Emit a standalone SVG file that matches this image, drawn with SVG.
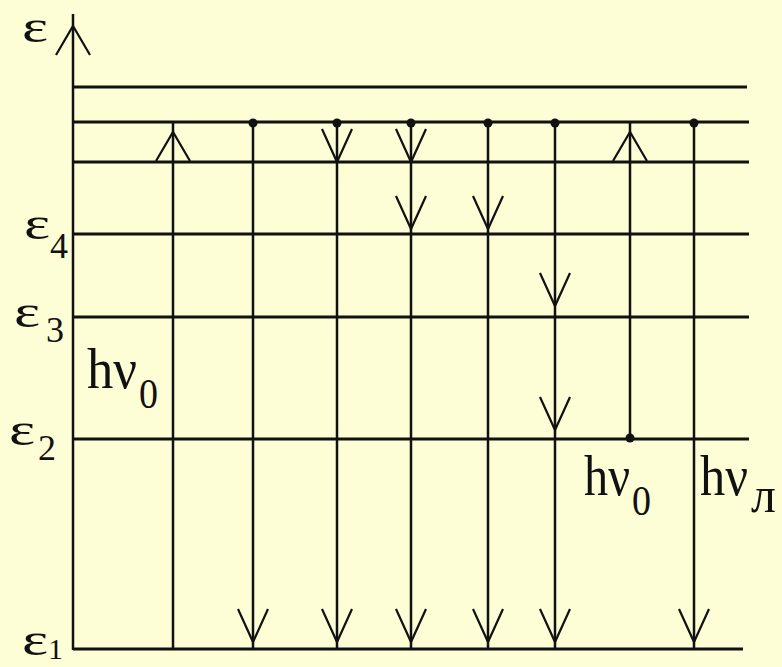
<svg xmlns="http://www.w3.org/2000/svg" xmlns:xlink="http://www.w3.org/1999/xlink" width="782" height="667" viewBox="0 0 782 667">
<style>
.lvl{stroke:#111;stroke-width:3;fill:none}
.ln{stroke:#111;stroke-width:2.5;fill:none}
.ah{stroke:#111;stroke-width:2.2;fill:none;stroke-linejoin:miter}
.dot{fill:#111}
.t{font-family:"Liberation Serif","Times New Roman",serif;fill:#111}
</style>
<defs>
<path id="dn" d="M-15,-33 L0,0 L15,-33" class="ah"/>
<path id="up" d="M-17,29 L0,0 L17,29" class="ah"/>
</defs>
<rect width="782" height="667" fill="#FDFDD6"/>
<g id="levels">
<line class="lvl" x1="73" y1="87" x2="747" y2="87"/>
<line class="lvl" x1="73" y1="122" x2="749" y2="122"/>
<line class="lvl" x1="73" y1="162" x2="749" y2="162"/>
<line class="lvl" x1="73" y1="234" x2="749" y2="234"/>
<line class="lvl" x1="73" y1="317" x2="749" y2="317"/>
<line class="lvl" x1="73" y1="439" x2="749" y2="439"/>
<line class="lvl" x1="73" y1="649" x2="743" y2="649"/>
</g>
<g id="axis">
<line class="ln" x1="73" y1="14" x2="73" y2="650"/>
<use xlink:href="#up" x="73" y="26"/>
</g>
<g id="connectors">
<line class="ln" x1="173" y1="122" x2="173" y2="649"/>
<use xlink:href="#up" x="173" y="132"/>
<line class="ln" x1="253" y1="122" x2="253" y2="649"/>
<use xlink:href="#dn" x="253" y="642"/>
<line class="ln" x1="337" y1="122" x2="337" y2="649"/>
<use xlink:href="#dn" x="337" y="162"/>
<use xlink:href="#dn" x="337" y="642"/>
<line class="ln" x1="411" y1="122" x2="411" y2="649"/>
<use xlink:href="#dn" x="411" y="162"/>
<use xlink:href="#dn" x="411" y="229"/>
<use xlink:href="#dn" x="411" y="642"/>
<line class="ln" x1="488" y1="122" x2="488" y2="649"/>
<use xlink:href="#dn" x="488" y="229"/>
<use xlink:href="#dn" x="488" y="642"/>
<line class="ln" x1="555" y1="122" x2="555" y2="649"/>
<use xlink:href="#dn" x="555" y="306"/>
<use xlink:href="#dn" x="555" y="430"/>
<use xlink:href="#dn" x="555" y="642"/>
<line class="ln" x1="630" y1="122" x2="630" y2="439"/>
<use xlink:href="#up" x="630" y="132"/>
<line class="ln" x1="694" y1="122" x2="694" y2="649"/>
<use xlink:href="#dn" x="694" y="642"/>
</g>
<g id="dots">
<circle class="dot" cx="253" cy="123" r="4.5"/>
<circle class="dot" cx="337" cy="123" r="4.5"/>
<circle class="dot" cx="411" cy="123" r="4.5"/>
<circle class="dot" cx="488" cy="123" r="4.5"/>
<circle class="dot" cx="555" cy="123" r="4.5"/>
<circle class="dot" cx="694" cy="123" r="4.5"/>
<circle class="dot" cx="630" cy="438" r="4.5"/>
</g>
<g id="labels">
<text class="t" font-size="46" transform="translate(22,42) scale(1.35,1)">ε</text>
<text class="t" font-size="46" transform="translate(24,239) scale(1.35,1)">ε</text>
<text class="t" font-size="36" x="50" y="258">4</text>
<text class="t" font-size="46" transform="translate(14,327) scale(1.35,1)">ε</text>
<text class="t" font-size="36" x="46" y="342">3</text>
<text class="t" font-size="46" transform="translate(9,445) scale(1.35,1)">ε</text>
<text class="t" font-size="36" x="38" y="460">2</text>
<text class="t" font-size="46" transform="translate(22,655) scale(1.35,1)">ε</text>
<text class="t" font-size="30" x="48" y="659">1</text>
<text class="t" font-size="50" textLength="50" lengthAdjust="spacingAndGlyphs" transform="translate(87,388) scale(1,1.15)">hν</text>
<text class="t" font-size="38" transform="translate(139,408) scale(1,1.1)">0</text>
<text class="t" font-size="50" textLength="46" lengthAdjust="spacingAndGlyphs" transform="translate(584,495) scale(1,1.15)">hν</text>
<text class="t" font-size="38" transform="translate(632,515) scale(1,1.1)">0</text>
<text class="t" font-size="50" textLength="48" lengthAdjust="spacingAndGlyphs" transform="translate(700,495) scale(1,1.15)">hν</text>
<text class="t" font-size="50" x="751" y="512">л</text>
</g>
</svg>
